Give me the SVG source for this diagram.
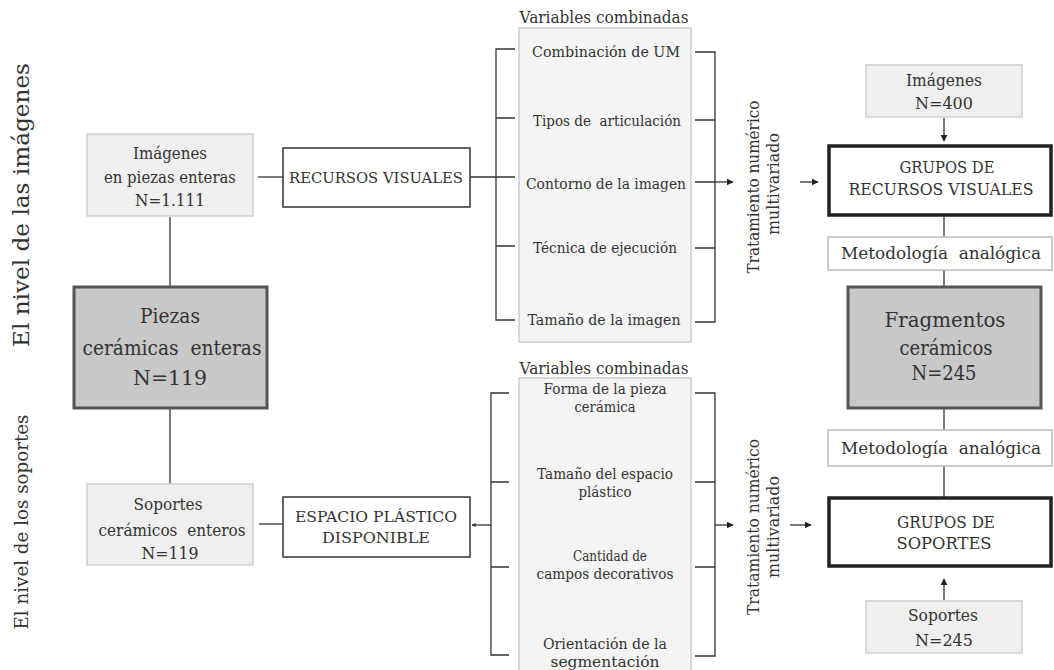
<svg xmlns="http://www.w3.org/2000/svg" width="1054" height="670" viewBox="0 0 1054 670" font-family="'DejaVu Serif', serif">
<defs>
<style>
text{font-family:"DejaVu Serif",serif;fill:#333;text-anchor:middle;dominant-baseline:central}
.lt{fill:#efefef;stroke:#cfcfcf;stroke-width:1.5}
.dk{fill:#c8c8c8;stroke:#555;stroke-width:3}
.wb{fill:#fff;stroke:#333;stroke-width:1.5}
.gb{fill:#fff;stroke:#222;stroke-width:3.5}
.mb{fill:#fff;stroke:#bbb;stroke-width:1.5}
.pn{fill:#f4f4f4;stroke:#ccc;stroke-width:1.5}
.ln{stroke:#333;stroke-width:1.3;fill:none}
.s15{font-size:15.5px}.s16{font-size:16px}.s17{font-size:17px}.s18{font-size:18px}.s19{font-size:19px}.s21{font-size:21px}.s22{font-size:22px}
</style>
<marker id="ah" viewBox="0 0 10 10" refX="9" refY="5" markerWidth="7" markerHeight="7" markerUnits="userSpaceOnUse" orient="auto"><path d="M0,0L10,5L0,10z" fill="#222"/></marker>
<marker id="ahs" viewBox="0 0 10 10" refX="9" refY="5" markerWidth="4" markerHeight="4" markerUnits="userSpaceOnUse" orient="auto"><path d="M0,0L10,5L0,10z" fill="#333"/></marker>
</defs>
<rect width="1054" height="670" fill="#fff"/>

<g id="label-imagenes"><text class="s22" transform="translate(21,205) rotate(-90)" textLength="284" lengthAdjust="spacingAndGlyphs">El nivel de las imágenes</text></g>
<g id="label-soportes"><text class="s19" transform="translate(21,522) rotate(-90)" textLength="215" lengthAdjust="spacingAndGlyphs">El nivel de los soportes</text></g>

<g id="connectors">
<line class="ln" x1="258" y1="177" x2="283" y2="177"/>
<line class="ln" x1="170" y1="217" x2="170" y2="286"/>
<line class="ln" x1="170" y1="408" x2="170" y2="484"/>
<line class="ln" x1="259" y1="524" x2="282" y2="524"/>
<line class="ln" x1="470" y1="177" x2="515" y2="177"/>
<path class="ln" d="M515,49H496V320H515M496,118H515M496,246H515"/>
<path class="ln" d="M695,52H715V322H695M695,120H715M695,182H715M695,248H715"/>
<line class="ln" x1="715" y1="182" x2="733" y2="182" marker-end="url(#ah)"/>
<line class="ln" x1="800" y1="182" x2="818" y2="182" marker-end="url(#ah)"/>
<line class="ln" x1="944" y1="118" x2="944" y2="141" marker-end="url(#ah)"/>
<line class="ln" x1="944" y1="215" x2="944" y2="237"/>
<line class="ln" x1="944" y1="270" x2="944" y2="286"/>
<line class="ln" x1="944" y1="408" x2="944" y2="430"/>
<line class="ln" x1="944" y1="466" x2="944" y2="497"/>
<line class="ln" x1="944" y1="600" x2="944" y2="579" marker-end="url(#ah)"/>
<path class="ln" d="M509,393H491V655H509M491,482H509M491,567H509"/>
<line class="ln" x1="491" y1="525" x2="472" y2="525" marker-end="url(#ahs)"/>
<path class="ln" d="M695,393H715V656H695M695,482H715M695,567H715"/>
<line class="ln" x1="715" y1="525" x2="733" y2="525" marker-end="url(#ah)"/>
<line class="ln" x1="790" y1="525" x2="811" y2="525" marker-end="url(#ah)"/>
</g>

<g id="n-imagenes-enteras"><rect class="lt" x="87" y="134" width="166" height="82"/>
<text class="s17" x="170" y="153" textLength="74" lengthAdjust="spacingAndGlyphs">Imágenes</text>
<text class="s17" x="170" y="177" textLength="132" lengthAdjust="spacingAndGlyphs">en piezas enteras</text>
<text class="s17" x="170" y="200" textLength="70" lengthAdjust="spacingAndGlyphs">N=1.111</text></g>

<g id="n-piezas"><rect class="dk" x="74" y="287" width="193" height="121"/>
<text class="s21" x="170" y="316" textLength="60" lengthAdjust="spacingAndGlyphs">Piezas</text>
<text class="s21" x="172" y="348" textLength="179" lengthAdjust="spacingAndGlyphs" xml:space="preserve">cerámicas  enteras</text>
<text class="s21" x="170" y="378" textLength="74" lengthAdjust="spacingAndGlyphs">N=119</text></g>

<g id="n-soportes-enteros"><rect class="lt" x="87" y="484" width="166" height="81"/>
<text class="s17" x="168" y="504" textLength="69" lengthAdjust="spacingAndGlyphs">Soportes</text>
<text class="s17" x="172" y="530" textLength="147" lengthAdjust="spacingAndGlyphs" xml:space="preserve">cerámicos  enteros</text>
<text class="s17" x="170" y="553" textLength="57" lengthAdjust="spacingAndGlyphs">N=119</text></g>

<g id="n-recursos"><rect class="wb" x="283" y="148" width="187" height="59"/>
<text class="s15" x="376" y="178" textLength="174" lengthAdjust="spacingAndGlyphs">RECURSOS VISUALES</text></g>

<g id="n-espacio"><rect class="wb" x="283" y="497" width="187" height="60"/>
<text class="s15" x="376" y="517" textLength="162" lengthAdjust="spacingAndGlyphs">ESPACIO PLÁSTICO</text>
<text class="s15" x="376" y="538" textLength="108" lengthAdjust="spacingAndGlyphs">DISPONIBLE</text></g>

<g id="n-vars-1"><text class="s16" x="604" y="17" textLength="169" lengthAdjust="spacingAndGlyphs">Variables combinadas</text>
<rect class="pn" x="519" y="28" width="172" height="314"/>
<text class="s15" x="606" y="52" textLength="148" lengthAdjust="spacingAndGlyphs">Combinación de UM</text>
<text class="s15" x="607" y="121" textLength="148" lengthAdjust="spacingAndGlyphs" xml:space="preserve">Tipos de  articulación</text>
<text class="s15" x="606" y="184" textLength="160" lengthAdjust="spacingAndGlyphs">Contorno de la imagen</text>
<text class="s15" x="605" y="248" textLength="144" lengthAdjust="spacingAndGlyphs">Técnica de ejecución</text>
<text class="s15" x="604" y="320" textLength="153" lengthAdjust="spacingAndGlyphs">Tamaño de la imagen</text></g>

<g id="n-vars-2"><text class="s16" x="604" y="368" textLength="169" lengthAdjust="spacingAndGlyphs">Variables combinadas</text>
<rect class="pn" x="519" y="378" width="172" height="300"/>
<text class="s15" x="605" y="389" textLength="123" lengthAdjust="spacingAndGlyphs">Forma de la pieza</text>
<text class="s15" x="605" y="407" textLength="61" lengthAdjust="spacingAndGlyphs">cerámica</text>
<text class="s15" x="605" y="474" textLength="136" lengthAdjust="spacingAndGlyphs">Tamaño del espacio</text>
<text class="s15" x="605" y="492" textLength="53" lengthAdjust="spacingAndGlyphs">plástico</text>
<text class="s15" x="610" y="556" textLength="74" lengthAdjust="spacingAndGlyphs">Cantidad de</text>
<text class="s15" x="605" y="574" textLength="137" lengthAdjust="spacingAndGlyphs">campos decorativos</text>
<text class="s15" x="605" y="644" textLength="124" lengthAdjust="spacingAndGlyphs">Orientación de la</text>
<text class="s15" x="605" y="662" textLength="109" lengthAdjust="spacingAndGlyphs">segmentación</text></g>

<g id="n-tratamiento-1"><text class="s17" transform="translate(753,187) rotate(-90)" textLength="173" lengthAdjust="spacingAndGlyphs">Tratamiento numérico</text>
<text class="s17" transform="translate(773,184) rotate(-90)" textLength="102" lengthAdjust="spacingAndGlyphs">multivariado</text></g>
<g id="n-tratamiento-2"><text class="s17" transform="translate(753,527) rotate(-90)" textLength="176" lengthAdjust="spacingAndGlyphs">Tratamiento numérico</text>
<text class="s17" transform="translate(773,527) rotate(-90)" textLength="102" lengthAdjust="spacingAndGlyphs">multivariado</text></g>

<g id="n-imagenes-400"><rect class="lt" x="866" y="65" width="156" height="52"/>
<text class="s17" x="944" y="80" textLength="76" lengthAdjust="spacingAndGlyphs">Imágenes</text>
<text class="s17" x="944" y="103" textLength="58" lengthAdjust="spacingAndGlyphs">N=400</text></g>

<g id="n-grupos-recursos"><rect class="gb" x="829" y="146" width="222" height="69"/>
<text class="s16" x="947" y="167" textLength="95" lengthAdjust="spacingAndGlyphs">GRUPOS DE</text>
<text class="s16" x="941" y="189" textLength="185" lengthAdjust="spacingAndGlyphs">RECURSOS VISUALES</text></g>

<g id="n-metodologia-1"><rect class="mb" x="828" y="237" width="224" height="33"/>
<text class="s17" x="941" y="253" textLength="200" lengthAdjust="spacingAndGlyphs" xml:space="preserve">Metodología  analógica</text></g>

<g id="n-fragmentos"><rect class="dk" x="848" y="287" width="193" height="121"/>
<text class="s21" x="945" y="320" textLength="121" lengthAdjust="spacingAndGlyphs">Fragmentos</text>
<text class="s21" x="946" y="348" textLength="93" lengthAdjust="spacingAndGlyphs">cerámicos</text>
<text class="s21" x="944" y="373" textLength="65" lengthAdjust="spacingAndGlyphs">N=245</text></g>

<g id="n-metodologia-2"><rect class="mb" x="828" y="430" width="224" height="36"/>
<text class="s17" x="941" y="448" textLength="200" lengthAdjust="spacingAndGlyphs" xml:space="preserve">Metodología  analógica</text></g>

<g id="n-grupos-soportes"><rect class="gb" x="829" y="498" width="222" height="68"/>
<text class="s16" x="946" y="522" textLength="98" lengthAdjust="spacingAndGlyphs">GRUPOS DE</text>
<text class="s16" x="944" y="543" textLength="95" lengthAdjust="spacingAndGlyphs">SOPORTES</text></g>

<g id="n-soportes-245"><rect class="lt" x="866" y="601" width="156" height="52"/>
<text class="s17" x="943" y="615" textLength="70" lengthAdjust="spacingAndGlyphs">Soportes</text>
<text class="s17" x="944" y="640" textLength="58" lengthAdjust="spacingAndGlyphs">N=245</text></g>
</svg>
